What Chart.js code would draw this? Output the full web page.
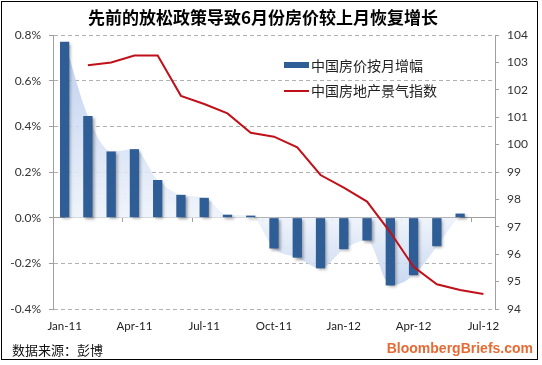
<!DOCTYPE html>
<html>
<head>
<meta charset="utf-8">
<script src="https://cdn.jsdelivr.net/npm/chart.js@4.4.1/dist/chart.umd.min.js"></script>
<style>
  html, body { margin: 0; padding: 0; background: #fff; }
  #wrap { position: relative; width: 542px; height: 365px; }
</style>
</head>
<body>
<div id="wrap"><canvas id="chart"></canvas></div>
<script>
// data
const months = ['Jan-11', 'Feb-11', 'Mar-11', 'Apr-11', 'May-11', 'Jun-11', 'Jul-11', 'Aug-11', 'Sep-11',
  'Oct-11', 'Nov-11', 'Dec-11', 'Jan-12', 'Feb-12', 'Mar-12', 'Apr-12', 'May-12', 'Jun-12', 'Jul-12'];
const monthlyChange = [0.77, 0.445, 0.29, 0.30, 0.165, 0.10, 0.087, 0.013, 0.009,
  -0.135, -0.175, -0.222, -0.138, -0.10, -0.297, -0.252, -0.125, 0.018, null];
const climateIndex = [null, 102.9, 103.0, 103.25, 103.25, 101.78, 101.48, 101.14, 100.43,
  100.29, 99.9, 98.89, 98.43, 97.92, 96.8, 95.54, 94.9, 94.69, 94.55];
const xTickLabels = ['Jan-11', 'Apr-11', 'Jul-11', 'Oct-11', 'Jan-12', 'Apr-12', 'Jul-12'];
const leftTicks = [-0.4, -0.2, 0.0, 0.2, 0.4, 0.6, 0.8];
const rightTicks = [94, 95, 96, 97, 98, 99, 100, 101, 102, 103, 104];

const titleText = '先前的放松政策导致6月份房价较上月恢复增长';
const barLabel = '中国房价按月增幅';
const lineLabel = '中国房地产景气指数';
const sourceText = '数据来源：彭博';
const brandText = 'BloombergBriefs.com';

const barColor = '#2f5d96';
const lineColor = '#c0111a';
const axisGray = '#a0a0a0';
const cjk = '"Noto Sans CJK SC", "Noto Sans", sans-serif';

// soft shadow behind the bars
const barShadow = {
  id: 'barShadow',
  beforeDatasetDraw(chart, args) {
    if (args.meta.type !== 'bar') return;
    const ctx = chart.ctx;
    ctx.save();
    ctx.shadowColor = 'rgba(0,0,0,0.35)';
    ctx.shadowBlur = 3;
    ctx.shadowOffsetX = 2;
    ctx.shadowOffsetY = 2;
  },
  afterDatasetDraw(chart, args) {
    if (args.meta.type === 'bar') chart.ctx.restore();
  }
};

// title, legend, source text and frame
const decorations = {
  id: 'decorations',
  afterDraw(chart) {
    const ctx = chart.ctx;
    ctx.save();
    ctx.strokeStyle = '#000';
    ctx.lineWidth = 1;
    ctx.strokeRect(1.5, 1.5, 536, 358);

    ctx.fillStyle = '#000';
    ctx.textBaseline = 'middle';
    ctx.textAlign = 'center';
    ctx.font = 'bold 17px ' + cjk;
    ctx.fillText(titleText, 263, 18);

    // legend
    ctx.textAlign = 'left';
    ctx.font = '14px ' + cjk;
    ctx.fillStyle = barColor;
    ctx.fillRect(284, 62, 25, 6);
    ctx.fillStyle = '#222';
    ctx.fillText(barLabel, 311, 66);
    ctx.strokeStyle = lineColor;
    ctx.lineWidth = 2;
    ctx.beginPath();
    ctx.moveTo(284, 91);
    ctx.lineTo(309, 91);
    ctx.stroke();
    ctx.fillText(lineLabel, 311, 91);

    ctx.font = '13px ' + cjk;
    ctx.fillStyle = '#111';
    ctx.fillText(sourceText, 12, 350);

    ctx.font = 'bold 14px "Liberation Sans", Arial, sans-serif';
    ctx.fillStyle = '#e66a34';
    ctx.textAlign = 'right';
    ctx.fillText(brandText, 533, 349);
    ctx.restore();
  }
};

function areaFill(c) {
  const chart = c.chart;
  const area = chart.chartArea;
  if (!area) return 'rgba(205,218,240,0.7)';
  const y0 = chart.scales.y.getPixelForValue(0);
  const t = Math.min(1, Math.max(0, (y0 - area.top) / (area.bottom - area.top)));
  const g = chart.ctx.createLinearGradient(0, area.top, 0, area.bottom);
  g.addColorStop(0, 'rgba(178,199,234,0.85)');
  g.addColorStop(t, 'rgba(238,243,251,0.9)');
  g.addColorStop(1, 'rgba(178,199,234,0.85)');
  return g;
}

new Chart(document.getElementById('chart'), {
  data: {
    labels: months,
    datasets: [
      {
        type: 'line',
        label: lineLabel,
        data: climateIndex,
        yAxisID: 'y1',
        borderColor: lineColor,
        borderWidth: 2,
        pointRadius: 0,
        tension: 0,
        order: 0
      },
      {
        type: 'bar',
        label: barLabel,
        data: monthlyChange,
        yAxisID: 'y',
        backgroundColor: barColor,
        barPercentage: 0.4,
        categoryPercentage: 1,
        order: 1
      },
      {
        type: 'line',
        label: 'area',
        data: monthlyChange,
        yAxisID: 'y',
        fill: 'origin',
        backgroundColor: areaFill,
        borderWidth: 0,
        pointRadius: 0,
        cubicInterpolationMode: 'monotone',
        order: 2
      }
    ]
  },
  options: {
    responsive: true,
    maintainAspectRatio: false,
    animation: false,
    layout: { padding: { top: 35, left: 0, right: 0, bottom: 0 } },
    plugins: { legend: { display: false }, tooltip: { enabled: false }, title: { display: false } },
    scales: {
      x: {
        type: 'category',
        offset: true,
        grid: { display: false, drawTicks: false },
        border: { display: false },
        ticks: {
          autoSkip: false,
          maxRotation: 0,
          padding: 10,
          color: '#222',
          font: { family: 'Lato', size: 11.5 },
          callback: (v, i) => xTickLabels.includes(months[i]) ? months[i] : ''
        },
        afterFit: s => { s.height = 56; }
      },
      x2: {
        type: 'category',
        axis: 'x',
        labels: months,
        offset: true,
        position: { y: 0 },
        grid: {
          offset: true,
          drawOnChartArea: false,
          drawTicks: true,
          tickLength: 4,
          tickColor: c => (c.index > 0 && c.index % 3 === 0) ? axisGray : 'rgba(0,0,0,0)'
        },
        border: { display: false },
        ticks: { display: false }
      },
      y: {
        position: 'left',
        min: leftTicks[0],
        max: leftTicks[leftTicks.length - 1],
        afterBuildTicks: s => { s.ticks = leftTicks.map(v => ({ value: v })); },
        grid: {
          color: c => Math.abs(c.tick.value) < 1e-9 ? axisGray : '#b0b0b0',
          tickColor: axisGray,
          tickLength: 4
        },
        border: {
          color: axisGray,
          dash: c => (c.tick && Math.abs(c.tick.value) < 1e-9) ? [] : [4, 3]
        },
        ticks: {
          padding: 8,
          color: '#333',
          font: { family: 'Lato', size: 12 },
          callback: v => v.toFixed(1) + '%'
        },
        afterFit: s => { s.width = 53; }
      },
      y1: {
        position: 'right',
        min: rightTicks[0],
        max: rightTicks[rightTicks.length - 1],
        afterBuildTicks: s => { s.ticks = rightTicks.map(v => ({ value: v })); },
        grid: { drawOnChartArea: false, tickColor: axisGray, tickLength: 4 },
        border: { color: axisGray },
        ticks: {
          padding: 8,
          color: '#333',
          font: { family: 'Lato', size: 12 },
          callback: v => String(v)
        },
        afterFit: s => { s.width = 47; }
      }
    }
  },
  plugins: [barShadow, decorations]
});
</script>
</body>
</html>
